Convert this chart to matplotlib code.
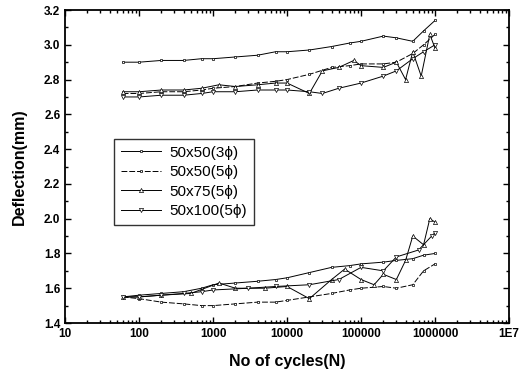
import matplotlib
matplotlib.use("Agg")
import matplotlib.pyplot as plt
from matplotlib.ticker import FixedLocator, FixedFormatter, LogLocator, MultipleLocator, NullFormatter

plt.rcParams['font.family'] = ['Liberation Sans', 'DejaVu Sans']

# Series: 50x50(3phi)
a_up_n = [60, 100, 200, 400, 700, 1000, 2000, 4000, 7000, 10000, 20000, 40000, 70000, 100000, 200000, 300000, 500000, 700000, 1000000]
a_up_y = [2.90, 2.90, 2.91, 2.91, 2.92, 2.92, 2.93, 2.94, 2.96, 2.96, 2.97, 2.99, 3.01, 3.02, 3.05, 3.04, 3.02, 3.08, 3.14]
a_lo_n = [60, 100, 200, 400, 700, 1000, 2000, 4000, 7000, 10000, 20000, 40000, 70000, 100000, 200000, 300000, 500000, 700000, 1000000]
a_lo_y = [1.55, 1.56, 1.57, 1.58, 1.60, 1.62, 1.63, 1.64, 1.65, 1.66, 1.69, 1.72, 1.73, 1.74, 1.75, 1.76, 1.77, 1.79, 1.80]

# Series: 50x50(5phi)
b_up_n = [60, 100, 200, 400, 700, 1000, 2000, 4000, 7000, 10000, 20000, 40000, 70000, 100000, 200000, 300000, 500000, 700000, 1000000]
b_up_y = [2.72, 2.72, 2.73, 2.73, 2.74, 2.75, 2.76, 2.78, 2.79, 2.80, 2.83, 2.87, 2.88, 2.89, 2.89, 2.90, 2.95, 3.00, 3.06]
b_lo_n = [60, 100, 200, 400, 700, 1000, 2000, 4000, 7000, 10000, 20000, 40000, 70000, 100000, 200000, 300000, 500000, 700000, 1000000]
b_lo_y = [1.55, 1.54, 1.52, 1.51, 1.50, 1.50, 1.51, 1.52, 1.52, 1.53, 1.55, 1.57, 1.59, 1.60, 1.61, 1.60, 1.62, 1.70, 1.74]

# Series: 50x75(5phi)
c_up_n = [60, 100, 200, 400, 700, 1200, 2000, 4000, 7000, 10000, 20000, 30000, 50000, 80000, 100000, 200000, 300000, 400000, 500000, 650000, 850000, 1000000]
c_up_y = [2.73, 2.73, 2.74, 2.74, 2.75, 2.77, 2.76, 2.77, 2.78, 2.78, 2.72, 2.85, 2.87, 2.91, 2.88, 2.87, 2.90, 2.80, 2.96, 2.82, 3.06, 2.98]
c_lo_n = [60, 100, 200, 500, 1200, 2000, 5000, 10000, 20000, 40000, 60000, 100000, 150000, 200000, 300000, 400000, 500000, 700000, 850000, 1000000]
c_lo_y = [1.55, 1.55, 1.56, 1.57, 1.63, 1.60, 1.60, 1.61, 1.54, 1.65, 1.71, 1.65, 1.62, 1.68, 1.65, 1.76, 1.90, 1.85, 2.00, 1.98]

# Series: 50x100(5phi)
d_up_n = [60, 100, 200, 400, 700, 1000, 2000, 4000, 7000, 10000, 20000, 30000, 50000, 100000, 200000, 300000, 500000, 700000, 1000000]
d_up_y = [2.70, 2.70, 2.71, 2.71, 2.72, 2.73, 2.73, 2.74, 2.74, 2.74, 2.73, 2.72, 2.75, 2.78, 2.82, 2.85, 2.92, 2.96, 3.00]
d_lo_n = [60, 100, 200, 400, 700, 1000, 3000, 7000, 20000, 50000, 100000, 200000, 300000, 600000, 900000, 1000000]
d_lo_y = [1.55, 1.55, 1.56, 1.57, 1.58, 1.59, 1.60, 1.61, 1.62, 1.65, 1.72, 1.70, 1.78, 1.82, 1.90, 1.92]

labels = ['50x50(3\u03d5)', '50x50(5\u03d5)', '50x75(5\u03d5)', '50x100(5\u03d5)']
x_ticks = [10, 100, 1000, 10000, 100000, 1000000, 10000000]
x_ticklabels = ['10', '100', '1000', '10000', '100000', '1000000', '1E7']

fig = plt.figure(figsize=(5.21, 3.78), dpi=100)
ax = fig.add_axes([0.125, 0.1455, 0.852, 0.828])

styles = [
    dict(marker='s', ms=2.0, ls='-'),
    dict(marker='s', ms=1.6, ls=(0, (6, 2))),
    dict(marker='^', ms=3.0, ls='-'),
    dict(marker='v', ms=3.0, ls='-'),
]
series = [(a_up_n, a_up_y, a_lo_n, a_lo_y), (b_up_n, b_up_y, b_lo_n, b_lo_y),
          (c_up_n, c_up_y, c_lo_n, c_lo_y), (d_up_n, d_up_y, d_lo_n, d_lo_y)]
for (un, uy, ln, ly), st, lab in zip(series, styles, labels):
    ax.plot(un, uy, color='black', lw=0.7, mfc='white', mec='black', mew=0.5, label=lab, **st)
    ax.plot(ln, ly, color='black', lw=0.7, mfc='white', mec='black', mew=0.5, **st)

ax.set_xscale('log')
ax.set_xlim(10, 1e7)
ax.set_ylim(1.4, 3.2)
ax.xaxis.set_major_locator(FixedLocator(x_ticks))
ax.xaxis.set_major_formatter(FixedFormatter(x_ticklabels))
ax.xaxis.set_minor_locator(LogLocator(base=10, subs=range(2, 10), numticks=20))
ax.xaxis.set_minor_formatter(NullFormatter())
ax.yaxis.set_major_locator(MultipleLocator(0.2))
ax.yaxis.set_minor_locator(MultipleLocator(0.1))
ax.yaxis.set_major_formatter(matplotlib.ticker.FormatStrFormatter('%.1f'))
ax.tick_params(which='both', direction='in', top=True, right=True, width=1.0)
ax.tick_params(which='major', length=4, labelsize=8.5)
ax.tick_params(which='minor', length=2)
for lbl in ax.get_xticklabels() + ax.get_yticklabels():
    lbl.set_fontweight('bold')
for sp in ax.spines.values():
    sp.set_linewidth(1.3)

ax.set_xlabel('No of cycles(N)', fontsize=11.5, fontweight='bold', labelpad=10)
ax.set_ylabel('Deflection(mm)', fontsize=11.5, fontweight='bold', labelpad=12)

leg = ax.legend(loc='upper left', bbox_to_anchor=(0.11, 0.588), fontsize=11,
                frameon=True, fancybox=False, edgecolor='black', handlelength=2.6,
                handletextpad=0.6, borderpad=0.45, labelspacing=0.35, borderaxespad=0)
leg.get_frame().set_linewidth(1.0)

fig.savefig('out.png', dpi=100)
